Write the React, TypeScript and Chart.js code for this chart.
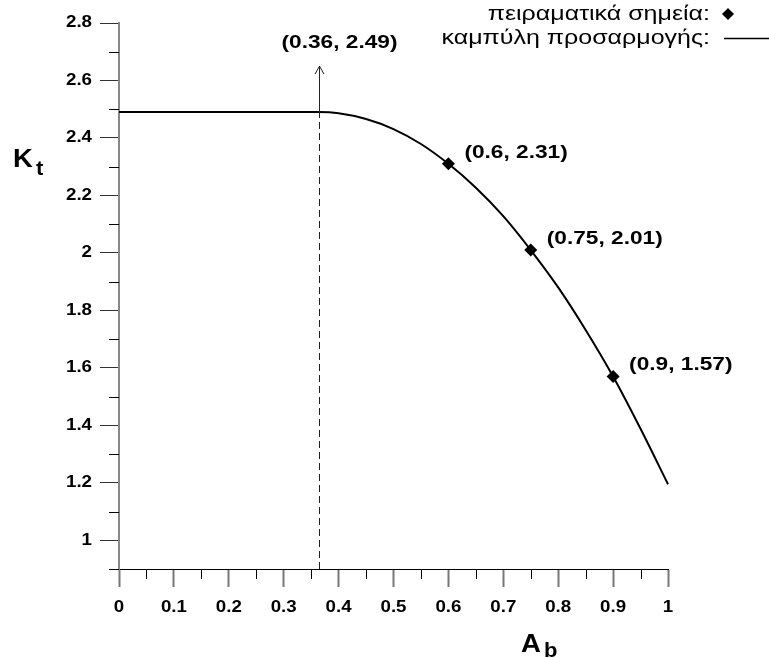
import { useEffect, useRef } from 'react';
import { Chart, registerables } from 'chart.js';

Chart.register(...registerables);

// ---- data ----
const fitX = [0, 0.1, 0.2, 0.3, 0.364, 0.4, 0.45, 0.5, 0.55, 0.6, 0.65, 0.7, 0.75, 0.8, 0.85, 0.9, 0.95, 1.0];
const fitY = [2.49, 2.49, 2.49, 2.49, 2.49, 2.486, 2.466, 2.431, 2.379, 2.31, 2.227, 2.128, 2.01, 1.88, 1.732, 1.57, 1.388, 1.195];

const expX = [0.6, 0.75, 0.9];
const expY = [2.31, 2.01, 1.57];
const expLabels = ['(0.6, 2.31)', '(0.75, 2.01)', '(0.9, 1.57)'];

const peakX = 0.364;
const peakY = 2.49;
const peakArrowTop = 2.65;
const peakLabel = '(0.36, 2.49)';

const xMajorTicks = [0, 0.1, 0.2, 0.3, 0.4, 0.5, 0.6, 0.7, 0.8, 0.9, 1];
const xTickLabels = ['0', '0.1', '0.2', '0.3', '0.4', '0.5', '0.6', '0.7', '0.8', '0.9', '1'];
const xMinorTicks = [0.05, 0.15, 0.25, 0.35, 0.45, 0.55, 0.65, 0.75, 0.85, 0.95];

const yMajorTicks = [1, 1.2, 1.4, 1.6, 1.8, 2, 2.2, 2.4, 2.6, 2.8];
const yTickLabels = ['1', '1.2', '1.4', '1.6', '1.8', '2', '2.2', '2.4', '2.6', '2.8'];
const yMinorTicks = [0.9, 1.1, 1.3, 1.5, 1.7, 1.9, 2.1, 2.3, 2.5, 2.7];

const xMin = 0;
const xMax = 1;
const yMin = 0.9;
const yMax = 2.8;

const legendPoints = 'πειραματικά σημεία:';
const legendCurve = 'καμπύλη προσαρμογής:';
const xTitleMain = 'A';
const xTitleSub = 'b';
const yTitleMain = 'K';
const yTitleSub = 't';

function drawText(
  ctx: CanvasRenderingContext2D,
  text: string,
  x: number,
  y: number,
  align: CanvasTextAlign,
  sx: number,
) {
  ctx.save();
  ctx.translate(x, y);
  ctx.scale(sx, 1);
  ctx.textAlign = align;
  ctx.fillText(text, 0, 0);
  ctx.restore();
}

const overlayPlugin = {
  id: 'overlay',
  afterDraw(chart: any) {
    const ctx = chart.ctx as CanvasRenderingContext2D;
    const xs = chart.scales.x;
    const ys = chart.scales.y;
    const area = chart.chartArea;
    ctx.save();

    // minor ticks
    ctx.strokeStyle = '#000';
    ctx.lineWidth = 1;
    ctx.beginPath();
    xMinorTicks.forEach((v) => {
      const px = Math.round(xs.getPixelForValue(v)) + 0.5;
      ctx.moveTo(px, area.bottom);
      ctx.lineTo(px, area.bottom + 10);
    });
    yMinorTicks.forEach((v) => {
      const py = Math.round(ys.getPixelForValue(v)) + 0.5;
      ctx.moveTo(area.left - 10, py);
      ctx.lineTo(area.left, py);
    });
    ctx.stroke();

    // tick labels
    ctx.fillStyle = '#000';
    ctx.font = 'bold 16px "Liberation Sans"';
    ctx.textBaseline = 'middle';
    xMajorTicks.forEach((v, i) => {
      drawText(ctx, xTickLabels[i], xs.getPixelForValue(v), 608, 'center', 1.17);
    });
    yMajorTicks.forEach((v, i) => {
      drawText(ctx, yTickLabels[i], 92, ys.getPixelForValue(v), 'right', 1.17);
    });

    // dashed marker + arrow
    const px = Math.round(xs.getPixelForValue(peakX)) + 0.5;
    const pyPeak = ys.getPixelForValue(peakY);
    const pyTop = ys.getPixelForValue(peakArrowTop);
    ctx.strokeStyle = '#222';
    ctx.lineWidth = 1;
    ctx.setLineDash([7, 4]);
    ctx.beginPath();
    ctx.moveTo(px, area.bottom);
    ctx.lineTo(px, pyPeak);
    ctx.stroke();
    ctx.setLineDash([]);
    ctx.beginPath();
    ctx.moveTo(px, pyPeak);
    ctx.lineTo(px, pyTop);
    ctx.moveTo(px - 4.5, pyTop + 8);
    ctx.lineTo(px, pyTop);
    ctx.lineTo(px + 4.5, pyTop + 8);
    ctx.stroke();

    // annotations
    ctx.font = 'bold 18px "Liberation Sans"';
    ctx.textBaseline = 'middle';
    drawText(ctx, peakLabel, px + 20, pyTop - 23, 'center', 1.26);
    expX.forEach((x, i) => {
      const ex = xs.getPixelForValue(x);
      const ey = ys.getPixelForValue(expY[i]);
      drawText(ctx, expLabels[i], ex + 16, ey - 11, 'left', 1.26);
    });

    // legend
    ctx.font = '20px "Liberation Sans"';
    drawText(ctx, legendPoints, 710, 14, 'right', 1.25);
    drawText(ctx, legendCurve, 710, 38, 'right', 1.25);
    ctx.beginPath();
    ctx.moveTo(728, 8);
    ctx.lineTo(734, 14);
    ctx.lineTo(728, 20);
    ctx.lineTo(722, 14);
    ctx.closePath();
    ctx.fill();
    ctx.strokeStyle = '#000';
    ctx.lineWidth = 1.5;
    ctx.beginPath();
    ctx.moveTo(724, 38.5);
    ctx.lineTo(769, 38.5);
    ctx.stroke();

    // axis titles
    ctx.textBaseline = 'alphabetic';
    ctx.font = 'bold 25px "Liberation Sans"';
    drawText(ctx, yTitleMain, 13, 167, 'left', 1.1);
    drawText(ctx, xTitleMain, 521, 652, 'left', 1.1);
    ctx.font = 'bold 20px "Liberation Sans"';
    drawText(ctx, yTitleSub, 36, 175, 'left', 1.1);
    drawText(ctx, xTitleSub, 544, 657, 'left', 1.1);

    ctx.restore();
  },
};

export default function App() {
  const ref = useRef<HTMLCanvasElement | null>(null);

  useEffect(() => {
    if (!ref.current) return;
    const chart = new Chart(ref.current, {
      type: 'scatter',
      data: {
        datasets: [
          {
            label: 'fit',
            data: fitX.map((x, i) => ({ x, y: fitY[i] })),
            showLine: true,
            borderColor: '#000',
            borderWidth: 2,
            pointRadius: 0,
            cubicInterpolationMode: 'monotone',
            clip: false,
          } as any,
          {
            label: 'points',
            data: expX.map((x, i) => ({ x, y: expY[i] })),
            pointStyle: 'rectRot',
            pointRadius: 6.5,
            backgroundColor: '#000',
            borderColor: '#000',
            borderWidth: 0,
            clip: false,
          } as any,
        ],
      },
      options: {
        animation: false,
        responsive: true,
        maintainAspectRatio: false,
        devicePixelRatio: 1,
        layout: { padding: { left: 0, top: 23, right: 101, bottom: 0 } },
        plugins: { legend: { display: false }, tooltip: { enabled: false } },
        scales: {
          x: {
            type: 'linear',
            min: xMin,
            max: xMax,
            afterBuildTicks: (s: any) => {
              s.ticks = xMajorTicks.map((v) => ({ value: v }));
            },
            afterFit: (s: any) => {
              s.height = 89;
            },
            ticks: { display: false },
            grid: {
              drawOnChartArea: false,
              drawTicks: true,
              tickLength: 18,
              tickColor: '#777',
              tickWidth: 2,
            },
            border: { display: true, color: '#000', width: 1 },
          },
          y: {
            type: 'linear',
            min: yMin,
            max: yMax,
            afterBuildTicks: (s: any) => {
              s.ticks = yMajorTicks.map((v) => ({ value: v }));
            },
            afterFit: (s: any) => {
              s.width = 119;
            },
            ticks: { display: false },
            grid: {
              drawOnChartArea: false,
              drawTicks: true,
              tickLength: 19,
              tickColor: '#333',
              tickWidth: 1,
            },
            border: { display: true, color: '#888', width: 2 },
          },
        },
      } as any,
      plugins: [overlayPlugin],
    });
    return () => chart.destroy();
  }, []);

  return (
    <div style={{ position: 'absolute', left: 0, top: 0, width: 769, height: 658, background: '#fff' }}>
      <canvas ref={ref} />
    </div>
  );
}
